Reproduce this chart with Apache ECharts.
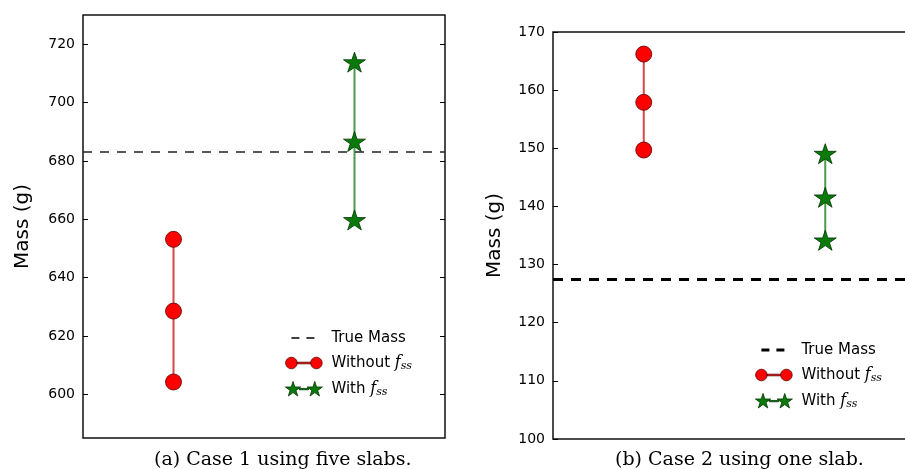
<!DOCTYPE html>
<html><head><meta charset="utf-8">
<script src="https://cdn.jsdelivr.net/npm/echarts@6/dist/echarts.min.js"></script>
<style>html,body{margin:0;padding:0;background:#fff}#c{width:905px;height:469px}</style>
</head><body><div id="c"></div>
<script>
// ---------- data ----------
const categories = ['without', 'with'];
const seriesNames = ['True Mass', 'Without f_ss', 'With f_ss'];
// (a) Case 1 using five slabs
const case1Without = [653.1, 628.5, 604.2];
const case1With = [713.5, 686.3, 659.4];
const case1True = 683.0;
const case1Ticks = [600, 620, 640, 660, 680, 700, 720];
// (b) Case 2 using one slab
const case2Without = [166.2, 157.9, 149.7];
const case2With = [148.9, 141.4, 134.0];
const case2True = 127.5;
const case2Ticks = [100, 110, 120, 130, 140, 150, 160, 170];
const captions = ['(a) Case 1 using five slabs.', '(b) Case 2 using one slab.'];

// ---------- shapes ----------
function starPath(cx, cy, r) {
  const ri = r * 0.382;
  let d = '';
  for (let i = 0; i < 10; i++) {
    const a = (-90 + i * 36) * Math.PI / 180;
    const rr = i % 2 === 0 ? r : ri;
    const x = (cx + rr * Math.cos(a)).toFixed(2), y = (cy + rr * Math.sin(a)).toFixed(2);
    d += (i === 0 ? 'M' : 'L') + x + ',' + y + ' ';
  }
  return d + 'Z ';
}
function circlePath(cx, cy, r) {
  return 'M' + (cx - r) + ',' + cy + ' A' + r + ',' + r + ' 0 1,0 ' + (cx + r) + ',' + cy +
    ' A' + r + ',' + r + ' 0 1,0 ' + (cx - r) + ',' + cy + ' Z ';
}
const anchors = 'M0,0 M370,160 ';
const starSymbol = 'path://' + starPath(50, 50, 50);
const iconCircles = 'path://' + anchors + circlePath(60, 80, 58) + circlePath(310, 80, 58) + 'M118,72 L252,72 L252,88 L118,88 Z';
const iconStars = 'path://' + anchors + starPath(65, 85, 85) + starPath(295, 85, 85) + 'M130,74 L230,74 L230,88 L130,88 Z';
function iconDash(th) {
  const y0 = 80 - th / 2, y1 = 80 + th / 2;
  return 'path://' + anchors + 'M60,' + y0 + ' L140,' + y0 + ' L140,' + y1 + ' L60,' + y1 + ' Z ' +
    'M210,' + y0 + ' L290,' + y0 + ' L290,' + y1 + ' L210,' + y1 + ' Z';
}

const RED = '#ff0000', RED_LINE = '#d64848', GREEN = '#0a7a0a', GREEN_LINE = '#4c9a4c';
const tickFont = { fontFamily: 'DejaVu Sans', fontSize: 14, color: '#000' };

function makeY(gi, min, max, ticks, gap, extra) {
  return Object.assign({
    type: 'value', gridIndex: gi, min: min, max: max,
    splitLine: { show: false },
    axisLine: { show: false },
    axisTick: { show: true, inside: true, length: 5, customValues: ticks, lineStyle: { color: '#000', width: 1 } },
    axisLabel: Object.assign({ customValues: ticks, margin: 8 }, tickFont),
    name: 'Mass (g)', nameLocation: 'middle', nameGap: gap,
    nameTextStyle: { fontFamily: 'DejaVu Sans', fontSize: 20, color: '#000' }
  }, extra || {});
}
function makeX(gi) {
  return { type: 'category', gridIndex: gi, data: categories, boundaryGap: true,
    axisLine: { show: false }, axisTick: { show: false }, axisLabel: { show: false }, splitLine: { show: false } };
}
function seriesFor(gi, yi, withoutVals, withVals, trueVal, dash) {
  return [
    { name: seriesNames[0], type: 'line', xAxisIndex: gi, yAxisIndex: yi, data: [],
      markLine: { silent: true, symbol: ['none', 'none'], label: { show: false },
        lineStyle: { color: dash.color, width: dash.width, type: dash.pattern },
        emphasis: { disabled: true },
        data: [{ yAxis: trueVal }] } },
    { name: seriesNames[1], type: 'line', xAxisIndex: gi, yAxisIndex: yi,
      data: withoutVals.map(v => [categories[0], v]),
      symbol: 'circle', symbolSize: 16, z: 3,
      itemStyle: { color: RED, borderColor: '#5a0000', borderWidth: 0.8 },
      lineStyle: { color: RED_LINE, width: 2 } },
    { name: seriesNames[2], type: 'line', xAxisIndex: gi, yAxisIndex: yi,
      data: withVals.map(v => [categories[1], v]),
      symbol: starSymbol, symbolSize: [22, 21], symbolKeepAspect: true, symbolOffset: [0, -1], z: 3,
      itemStyle: { color: GREEN, borderColor: '#003300', borderWidth: 0.8 },
      lineStyle: { color: GREEN_LINE, width: 2 } }
  ];
}
function legendFor(left, top, dashTh) {
  return {
    orient: 'vertical', left: left, top: top, padding: 0, itemGap: 8,
    itemWidth: 37, itemHeight: 16, selectedMode: false,
    data: [
      { name: seriesNames[0], icon: iconDash(dashTh), itemStyle: { color: '#000', borderWidth: 0 } },
      { name: seriesNames[1], icon: iconCircles, itemStyle: { color: RED, borderColor: '#5a0000', borderWidth: 0.8 } },
      { name: seriesNames[2], icon: iconStars, itemStyle: { color: GREEN, borderColor: '#003300', borderWidth: 0.8 } }
    ],
    formatter: function (name) {
      if (name === 'True Mass') return '{n|True Mass}';
      return '{n|' + name.replace(' f_ss', '') + ' }{f|f}{s|ss}';
    },
    textStyle: {
      padding: [0, 0, 0, 4],
      rich: {
        n: { fontFamily: 'DejaVu Sans', fontSize: 15, color: '#000', lineHeight: 20 },
        f: { fontFamily: 'DejaVu Serif', fontStyle: 'italic', fontSize: 16, color: '#000', lineHeight: 20 },
        s: { fontFamily: 'DejaVu Serif', fontStyle: 'italic', fontSize: 11, color: '#000', lineHeight: 20, padding: [7, 0, 0, 0] }
      }
    }
  };
}

const chart = echarts.init(document.getElementById('c'), null, { renderer: 'canvas' });
chart.setOption({
  animation: false,
  backgroundColor: '#fff',
  grid: [
    { left: 83, top: 15, width: 362, height: 423, show: true, borderColor: '#111', borderWidth: 1.5, backgroundColor: 'transparent', outerBoundsMode: 'none', containLabel: false },
    { left: 553, top: 32, width: 363, height: 407, show: true, borderColor: '#111', borderWidth: 1.5, backgroundColor: 'transparent', outerBoundsMode: 'none', containLabel: false }
  ],
  xAxis: [makeX(0), makeX(1)],
  yAxis: [
    makeY(0, 585, 730, case1Ticks, 50),
    makeY(0, 585, 730, case1Ticks, 50, { position: 'right', name: '', axisLabel: { show: false } }),
    makeY(1, 100, 170, case2Ticks, 48)
  ],
  legend: [legendFor(285, 330, 16), legendFor(755, 342, 30)],
  series: [].concat(
    seriesFor(0, 0, case1Without, case1With, case1True, { color: '#222', width: 1.5, pattern: [9, 8] }),
    seriesFor(1, 2, case2Without, case2With, case2True, { color: '#000', width: 3, pattern: [10, 8] })
  ),
  graphic: [
    { type: 'text', left: 154, top: 451, style: { text: captions[0], font: '19px "DejaVu Serif"', fill: '#000' } },
    { type: 'text', left: 615, top: 451, style: { text: captions[1], font: '19px "DejaVu Serif"', fill: '#000' } }
  ]
});
</script>
</body></html>
